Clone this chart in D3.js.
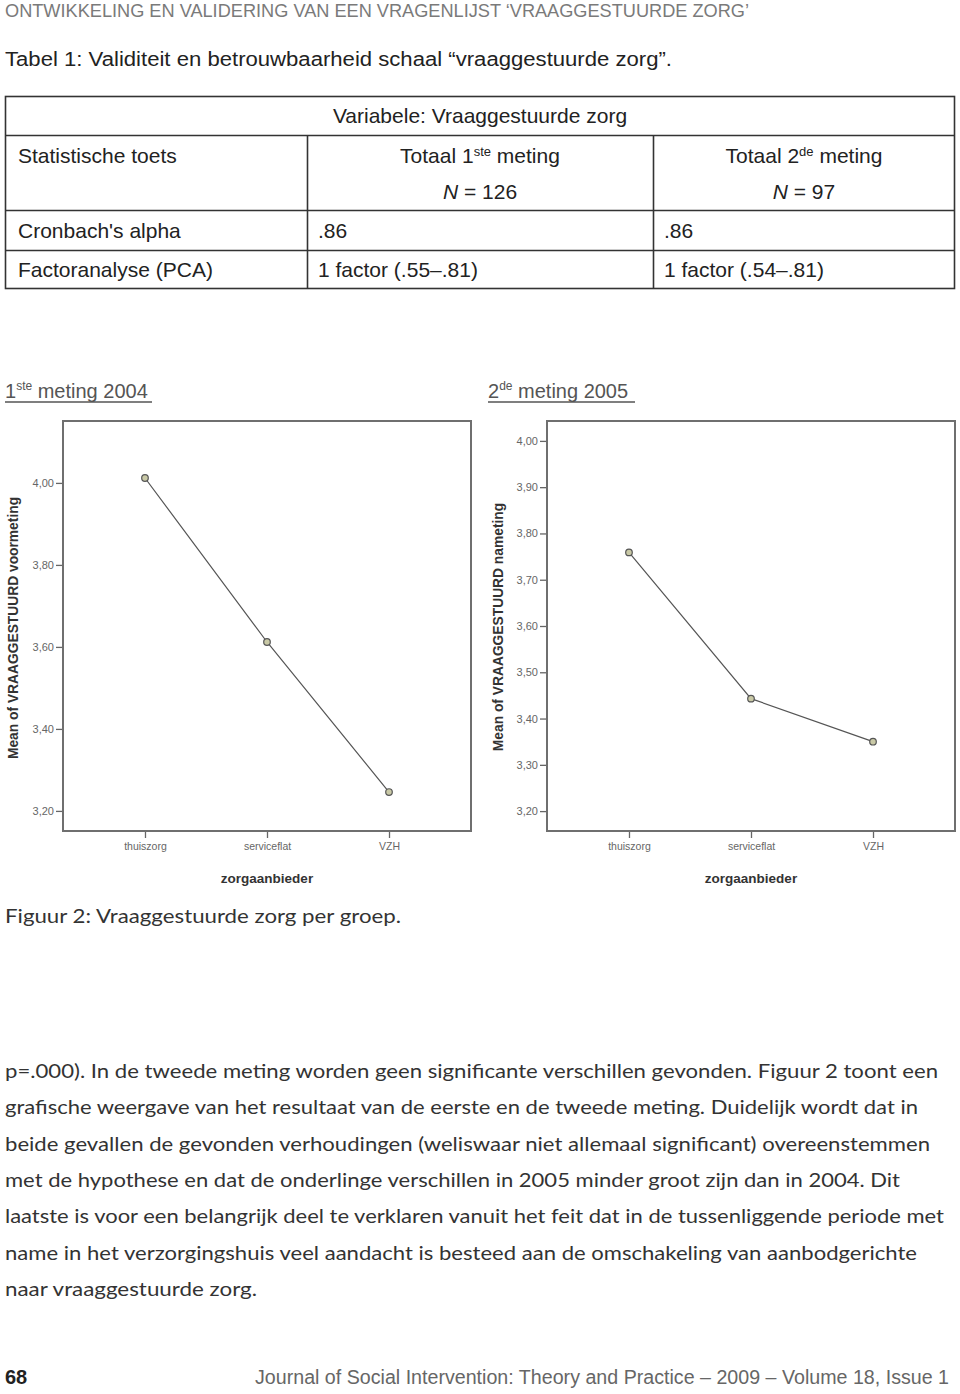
<!DOCTYPE html>
<html><head><meta charset="utf-8">
<script src="https://cdn.jsdelivr.net/npm/d3@7"></script>
<style>
body{margin:0;background:#fff;}
svg text{font-family:"Liberation Sans Narrow","Liberation Sans",sans-serif;}
</style></head>
<body><svg id="page" width="960" height="1394"></svg>
<script>
// ---- data ----
const categories = ["thuiszorg", "serviceflat", "VZH"];
const values2004 = [4.012, 3.612, 3.246];
const values2005 = [3.759, 3.443, 3.350];
const ticks2004 = [3.2, 3.4, 3.6, 3.8, 4.0];
const ticks2005 = [3.2, 3.3, 3.4, 3.5, 3.6, 3.7, 3.8, 3.9, 4.0];
const domain2004 = [3.151, 4.151];
const domain2005 = [3.157, 4.043];
const tableRows = [["Cronbach's alpha", ".86", ".86"], ["Factoranalyse (PCA)", "1 factor (.55\u2013.81)", "1 factor (.54\u2013.81)"]];
const paragraph = [
 "p=.000). In de tweede meting worden geen significante verschillen gevonden. Figuur 2 toont een",
 "grafische weergave van het resultaat van de eerste en de tweede meting. Duidelijk wordt dat in",
 "beide gevallen de gevonden verhoudingen (weliswaar niet allemaal significant) overeenstemmen",
 "met de hypothese en dat de onderlinge verschillen in 2005 minder groot zijn dan in 2004. Dit",
 "laatste is voor een belangrijk deel te verklaren vanuit het feit dat in de tussenliggende periode met",
 "name in het verzorgingshuis veel aandacht is besteed aan de omschakeling van aanbodgerichte",
 "naar vraaggestuurde zorg."
];
const paraWidths = [933, 913, 925, 895, 939, 912, 252];

const svg = d3.select("#page");
const bodyFont = "Lato, 'Open Sans', sans-serif";

// header
svg.append("text").attr("x", 5).attr("y", 17).attr("font-size", 18.5).attr("fill", "#7a7a7a")
  .attr("textLength", 744).attr("lengthAdjust", "spacingAndGlyphs")
  .text("ONTWIKKELING EN VALIDERING VAN EEN VRAGENLIJST \u2018VRAAGGESTUURDE ZORG\u2019");

svg.append("text").attr("x", 5).attr("y", 66).attr("font-size", 20).attr("fill", "#222")
  .attr("textLength", 667).attr("lengthAdjust", "spacingAndGlyphs")
  .text("Tabel 1:  Validiteit en betrouwbaarheid schaal \u201Cvraaggestuurde zorg\u201D.");

// table
const T = svg.append("g").attr("stroke", "#333").attr("stroke-width", 1.6);
T.append("rect").attr("x", 5.5).attr("y", 96.5).attr("width", 949).attr("height", 192).attr("fill", "none");
[135.5, 210.5, 250.5].forEach(y => T.append("line").attr("x1", 5).attr("x2", 955).attr("y1", y).attr("y2", y));
[307.5, 653.5].forEach(x => T.append("line").attr("x1", x).attr("x2", x).attr("y1", 135).attr("y2", 289));
const tf = 21, tc = "#222";
svg.append("text").attr("x", 480).attr("y", 123).attr("text-anchor", "middle").attr("font-size", tf).attr("fill", tc).text("Variabele: Vraaggestuurde zorg");
svg.append("text").attr("x", 18).attr("y", 163).attr("font-size", tf).attr("fill", tc).text("Statistische toets");
function totaal(cx, num, sup) {
  const t = svg.append("text").attr("x", cx).attr("y", 163).attr("text-anchor", "middle").attr("font-size", tf).attr("fill", tc);
  t.append("tspan").text("Totaal " + num);
  t.append("tspan").attr("dy", -7).attr("font-size", 13).text(sup);
  t.append("tspan").attr("dy", 7).text(" meting");
}
totaal(480, "1", "ste");
totaal(804, "2", "de");
function nText(cx, n) {
  const t = svg.append("text").attr("x", cx).attr("y", 199).attr("text-anchor", "middle").attr("font-size", tf).attr("fill", tc);
  t.append("tspan").attr("font-style", "italic").text("N");
  t.append("tspan").text(" = " + n);
}
nText(480, "126");
nText(804, "97");
tableRows.forEach((r, i) => {
  const y = 238 + i * 39;
  svg.append("text").attr("x", 18).attr("y", y).attr("font-size", tf).attr("fill", tc).text(r[0]);
  svg.append("text").attr("x", 318).attr("y", y).attr("font-size", tf).attr("fill", tc).text(r[1]);
  svg.append("text").attr("x", 664).attr("y", y).attr("font-size", tf).attr("fill", tc).text(r[2]);
});

// charts
function chart(cfg) {
  const g = svg.append("g");
  const x0 = cfg.x0, x1 = cfg.x0 + 408, y0 = 421, y1 = 831;
  const t = g.append("text").attr("x", cfg.titleX).attr("y", 398).attr("font-size", 20)
    .attr("fill", "#555").style("font-family", "'Liberation Sans', Arial, sans-serif");
  t.append("tspan").text(cfg.num);
  t.append("tspan").attr("dy", -8).attr("font-size", 12).text(cfg.sup);
  t.append("tspan").attr("dy", 8).text(" meting " + cfg.year);
  g.append("line").attr("x1", cfg.titleX).attr("x2", cfg.titleX + 147).attr("y1", 402).attr("y2", 402)
    .attr("stroke", "#555").attr("stroke-width", 1.5);

  const x = d3.scalePoint().domain(categories).range([x0, x1]).padding(0.672);
  const y = d3.scaleLinear().domain(cfg.domain).range([y1, y0]);

  g.append("rect").attr("x", x0).attr("y", y0).attr("width", x1 - x0).attr("height", y1 - y0)
    .attr("fill", "none").attr("stroke", "#6f6f6f").attr("stroke-width", 2);

  const ya = g.append("g").attr("transform", `translate(${x0 - 1},0)`)
    .call(d3.axisLeft(y).tickValues(cfg.ticks).tickSize(6).tickPadding(2)
      .tickFormat(d => d3.format(".2f")(d).replace(".", ",")));
  ya.select(".domain").remove();
  ya.selectAll("line").attr("stroke", "#666").attr("stroke-width", 1.3);
  ya.selectAll("text").attr("fill", "#666").attr("font-size", 11)
    .style("font-family", "'Liberation Sans', Arial, sans-serif");

  const xa = g.append("g").attr("transform", `translate(0,${y1 + 1})`)
    .call(d3.axisBottom(x).tickSize(6).tickPadding(5));
  xa.select(".domain").remove();
  xa.selectAll("line").attr("stroke", "#666").attr("stroke-width", 1.3);
  xa.selectAll("text").attr("fill", "#666").attr("font-size", 10.5)
    .style("font-family", "'Liberation Sans', Arial, sans-serif");

  g.append("text").attr("x", (x0 + x1) / 2).attr("y", 883).attr("text-anchor", "middle")
    .attr("font-size", 13.5).attr("font-weight", "bold").attr("fill", "#333")
    .style("font-family", "'Liberation Sans', Arial, sans-serif").text("zorgaanbieder");

  g.append("text").attr("transform", `translate(${cfg.labelX},${cfg.labelY}) rotate(-90)`)
    .attr("text-anchor", "middle").attr("font-size", 13.8).attr("font-weight", "bold").attr("fill", "#333")
    .style("font-family", "'Liberation Sans', Arial, sans-serif").text(cfg.ylabel);

  const data = categories.map((c, i) => [c, cfg.values[i]]);
  g.append("path").datum(data)
    .attr("d", d3.line().x(d => x(d[0])).y(d => y(d[1])))
    .attr("fill", "none").attr("stroke", "#555").attr("stroke-width", 1.2);
  g.selectAll("circle.pt").data(data).join("circle").attr("class", "pt")
    .attr("cx", d => x(d[0])).attr("cy", d => y(d[1])).attr("r", 3.3)
    .attr("fill", "#c9c9a6").attr("stroke", "#555").attr("stroke-width", 1.2);
}
chart({x0: 63, titleX: 5, num: "1", sup: "ste", year: "2004", domain: domain2004, ticks: ticks2004,
  values: values2004, ylabel: "Mean of VRAAGGESTUURD voormeting", labelX: 18, labelY: 628});
chart({x0: 547, titleX: 488, num: "2", sup: "de", year: "2005", domain: domain2005, ticks: ticks2005,
  values: values2005, ylabel: "Mean of VRAAGGESTUURD nameting", labelX: 503, labelY: 627});

// caption
svg.append("text").attr("x", 5).attr("y", 923).attr("font-size", 19).attr("fill", "#333")
  .style("font-family", bodyFont).attr("textLength", 396).attr("lengthAdjust", "spacingAndGlyphs")
  .text("Figuur 2: Vraaggestuurde zorg per groep.");

// paragraph
paragraph.forEach((line, i) => {
  svg.append("text").attr("x", 5).attr("y", 1078 + i * 36.3).attr("font-size", 19).attr("fill", "#333")
    .style("font-family", bodyFont).attr("textLength", paraWidths[i]).attr("lengthAdjust", "spacingAndGlyphs")
    .text(line);
});

// footer
svg.append("text").attr("x", 5).attr("y", 1384).attr("font-size", 20).attr("font-weight", "bold").attr("fill", "#222").text("68");
svg.append("text").attr("x", 255).attr("y", 1384).attr("font-size", 19.5).attr("fill", "#666")
  .attr("textLength", 694).attr("lengthAdjust", "spacingAndGlyphs")
  .text("Journal of Social Intervention: Theory and Practice  \u2013  2009  \u2013  Volume 18, Issue 1");
</script></body></html>
